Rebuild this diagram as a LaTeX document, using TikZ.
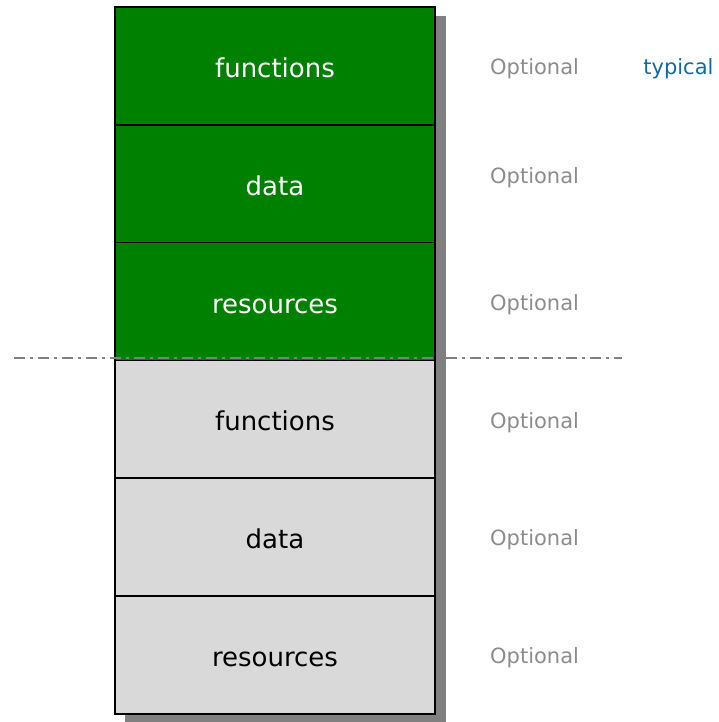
\documentclass[tikz,border=0pt]{standalone}
\usepackage{fontspec}
\setmainfont{DejaVu Sans}
\usetikzlibrary{positioning,calc,backgrounds}
\definecolor{stackGreen}{RGB}{0,128,0}
\definecolor{stackGray}{RGB}{217,217,217}
\definecolor{shadowGray}{RGB}{128,128,128}
\definecolor{noteGray}{RGB}{140,140,140}
\definecolor{noteBlue}{RGB}{16,106,160}

\begin{document}
\begin{tikzpicture}[x=1pt,y=1pt,
    part/.style={draw,line width=1.6pt,minimum width=320pt,minimum height=117.8pt,inner sep=0pt,outer sep=0pt,text height=23.5pt,font=\fontsize{26}{30}\selectfont},
    upper/.style={part,fill=stackGreen,text=white},
    lower/.style={part,fill=stackGray,text=black},
    note/.style={inner sep=0pt,text=noteGray,font=\fontsize{21}{25}\selectfont},
    cut/.style={draw=shadowGray,line width=2.2pt,dash pattern=on 11pt off 5pt on 3pt off 5pt}
  ]
    \useasboundingbox (0,0) rectangle (719,722);
    \node[upper] (fun1) at (275,656) {functions};
    \node[upper,below=0pt of fun1] (data1) {data};
    \node[upper,below=0pt of data1] (res1) {resources};
    \node[lower,below=0pt of res1] (fun2) {functions};
    \node[lower,below=0pt of fun2] (data2) {data};
    \node[lower,below=0pt of data2] (res2) {resources};
    \begin{scope}[on background layer]
      \fill[shadowGray] ($(fun1.north west)+(10,-9)$) rectangle ($(res2.south east)+(11,-9)$);
    \end{scope}
    \node[note,right=55pt of fun1,yshift=-3pt] (opt1) {Optional};
    \node[note,right=55pt of data1,yshift=6pt] (opt2) {Optional};
    \node[note,right=55pt of res1,yshift=-3pt] (opt3) {Optional};
    \node[note,right=55pt of fun2,yshift=-3pt] (opt4) {Optional};
    \node[note,right=55pt of data2,yshift=-3pt] (opt5) {Optional};
    \node[note,right=55pt of res2,yshift=-3pt] (opt6) {Optional};
    \node[note,text=noteBlue,right=64pt of opt1] (typ) {typical};
    \coordinate (cutL) at (14,364);
    \coordinate (cutR) at (622,364);
    \draw[cut] (cutL) -- (cutR);
  \end{tikzpicture}
\end{document}
